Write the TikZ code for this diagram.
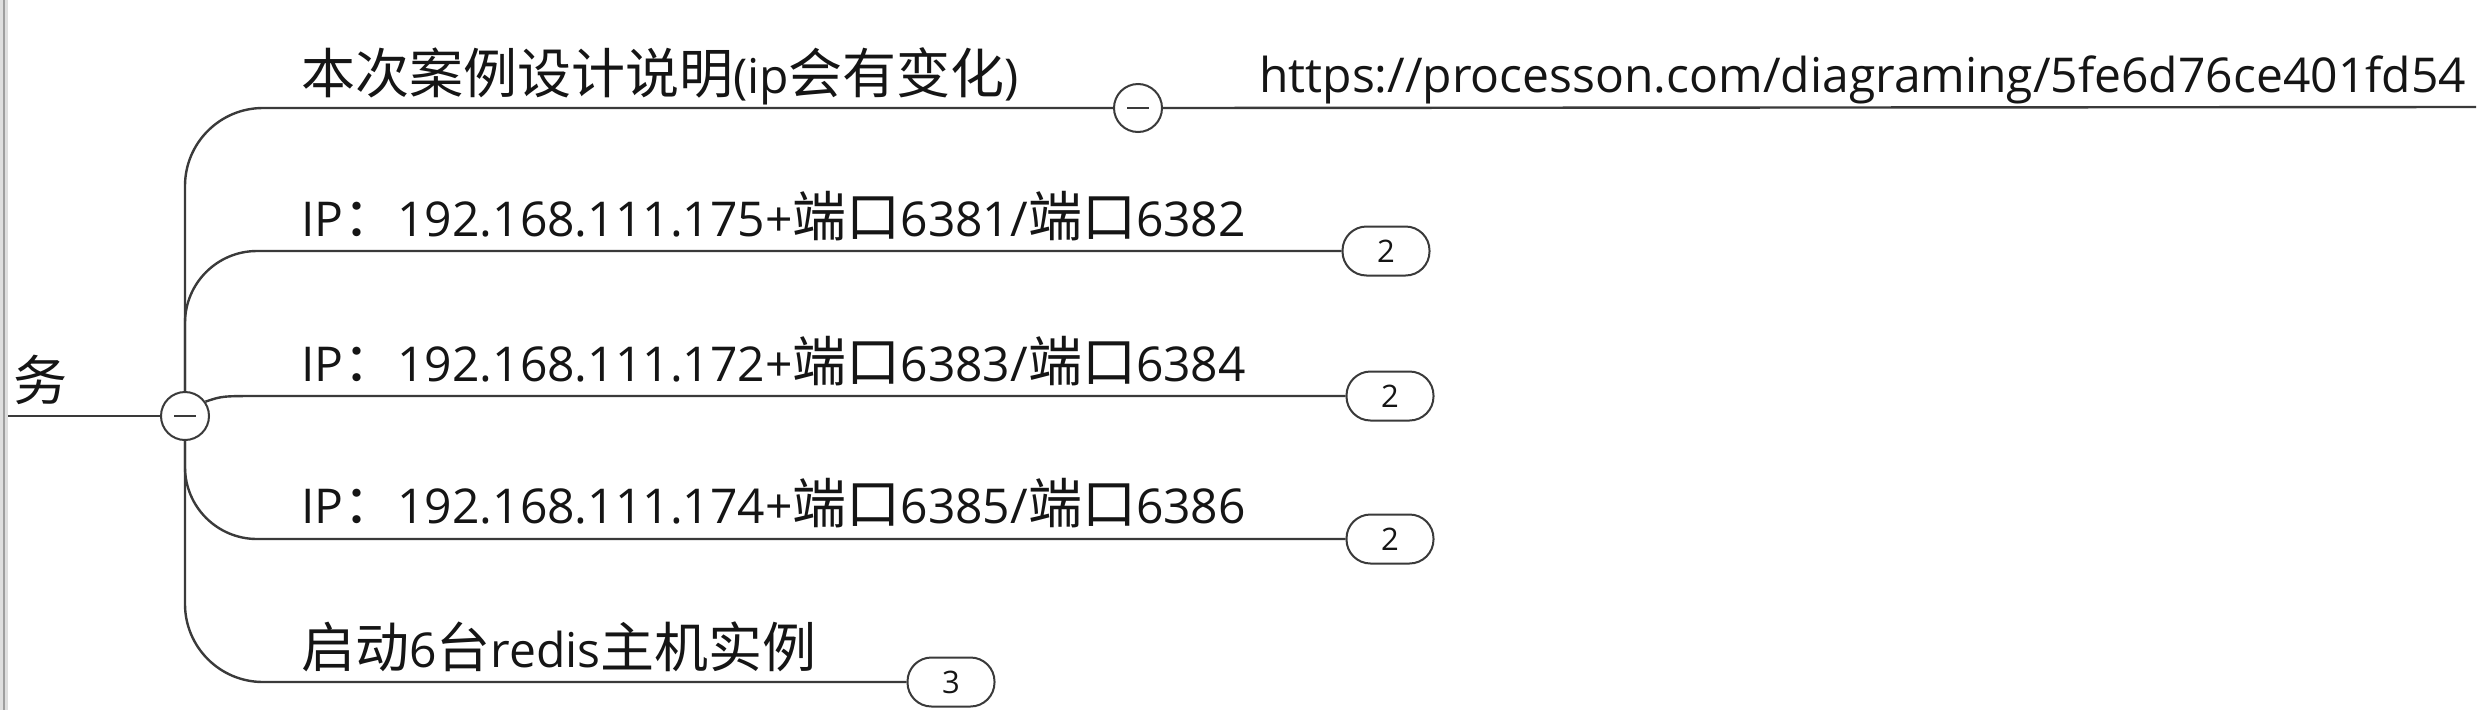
\documentclass[tikz,border=0pt]{standalone}
\usepackage{fontspec}
\setmainfont{Open Sans}
\newfontfamily\cjk{Noto Sans CJK SC}[Scale=1.125]
\definecolor{linec}{HTML}{3A3A3A}
\definecolor{txtc}{HTML}{151515}
\begin{document}
\begin{tikzpicture}[x=1pt,y=-1pt,
  conn/.style={draw=linec, line width=2.4pt},
  toggle/.style={circle, draw=linec, fill=white, line width=2pt, minimum size=48pt, inner sep=0pt},
  pill/.style={rectangle, rounded corners=24pt, draw=linec, fill=white, line width=2pt, minimum width=87pt, minimum height=49pt, inner sep=0pt, text=txtc, font=\fontsize{31}{31}\selectfont},
  lbl/.style={anchor=base west, inner sep=0pt, text=txtc, font=\fontsize{48}{48}\selectfont},
  minus/.style={draw=linec, line width=2.4pt}]
\useasboundingbox[fill=white] (0,0) rectangle (2483,710);
% window edge
\fill[gray!25] (0,0) rectangle (8,710);
\draw[gray!75, line width=2.5pt] (4,0) -- (4,710);
% nodes
\node[toggle] (root) at (185,416) {};
\node[toggle] (t1) at (1138,108) {};
\coordinate (rootL) at (8,416);
\node[lbl] (rt) at (13,400) {\cjk 务};
\node[lbl] (n1) at (301,93) {{\cjk 本次案例设计说明}(ip{\cjk 会有变化})};
\node[lbl] (n2) at (301,236) {IP{\cjk ：}192.168.111.175+{\cjk 端口}6381/{\cjk 端口}6382};
\node[lbl] (n3) at (301,381) {IP{\cjk ：}192.168.111.172+{\cjk 端口}6383/{\cjk 端口}6384};
\node[lbl] (n4) at (301,523) {IP{\cjk ：}192.168.111.174+{\cjk 端口}6385/{\cjk 端口}6386};
\node[lbl] (n5) at (301,667) {{\cjk 启动}6{\cjk 台}redis{\cjk 主机实例}};
\node[lbl] (url) at (1259,92) {https://processon.com/diagraming/5fe6d76ce401fd54};
\coordinate (ue) at (2476,107);
\node[pill] (p2) at (1386,251) {2};
\node[pill] (p3) at (1390,396) {2};
\node[pill] (p4) at (1390,539) {2};
\node[pill] (p5) at (951,682) {3};
% connectors
\draw[conn] (rootL) -- (root.west);
\draw[conn, rounded corners=78pt] (root.north) |- (t1.west);
\draw[conn, rounded corners=72pt] (root.north) |- (p2.west);
\draw[conn] (root.35) .. controls (222,396) .. (262,396) -- (p3.west);
\draw[conn, rounded corners=72pt] (root.south) |- (p4.west);
\draw[conn, rounded corners=78pt] (root.south) |- (p5.west);
\draw[conn] (t1.east) -- (ue);
% minus signs
\draw[minus] ([xshift=-11pt]root.center) -- ([xshift=11pt]root.center);
\draw[minus] ([xshift=-11pt]t1.center) -- ([xshift=11pt]t1.center);
\end{tikzpicture}
\end{document}
